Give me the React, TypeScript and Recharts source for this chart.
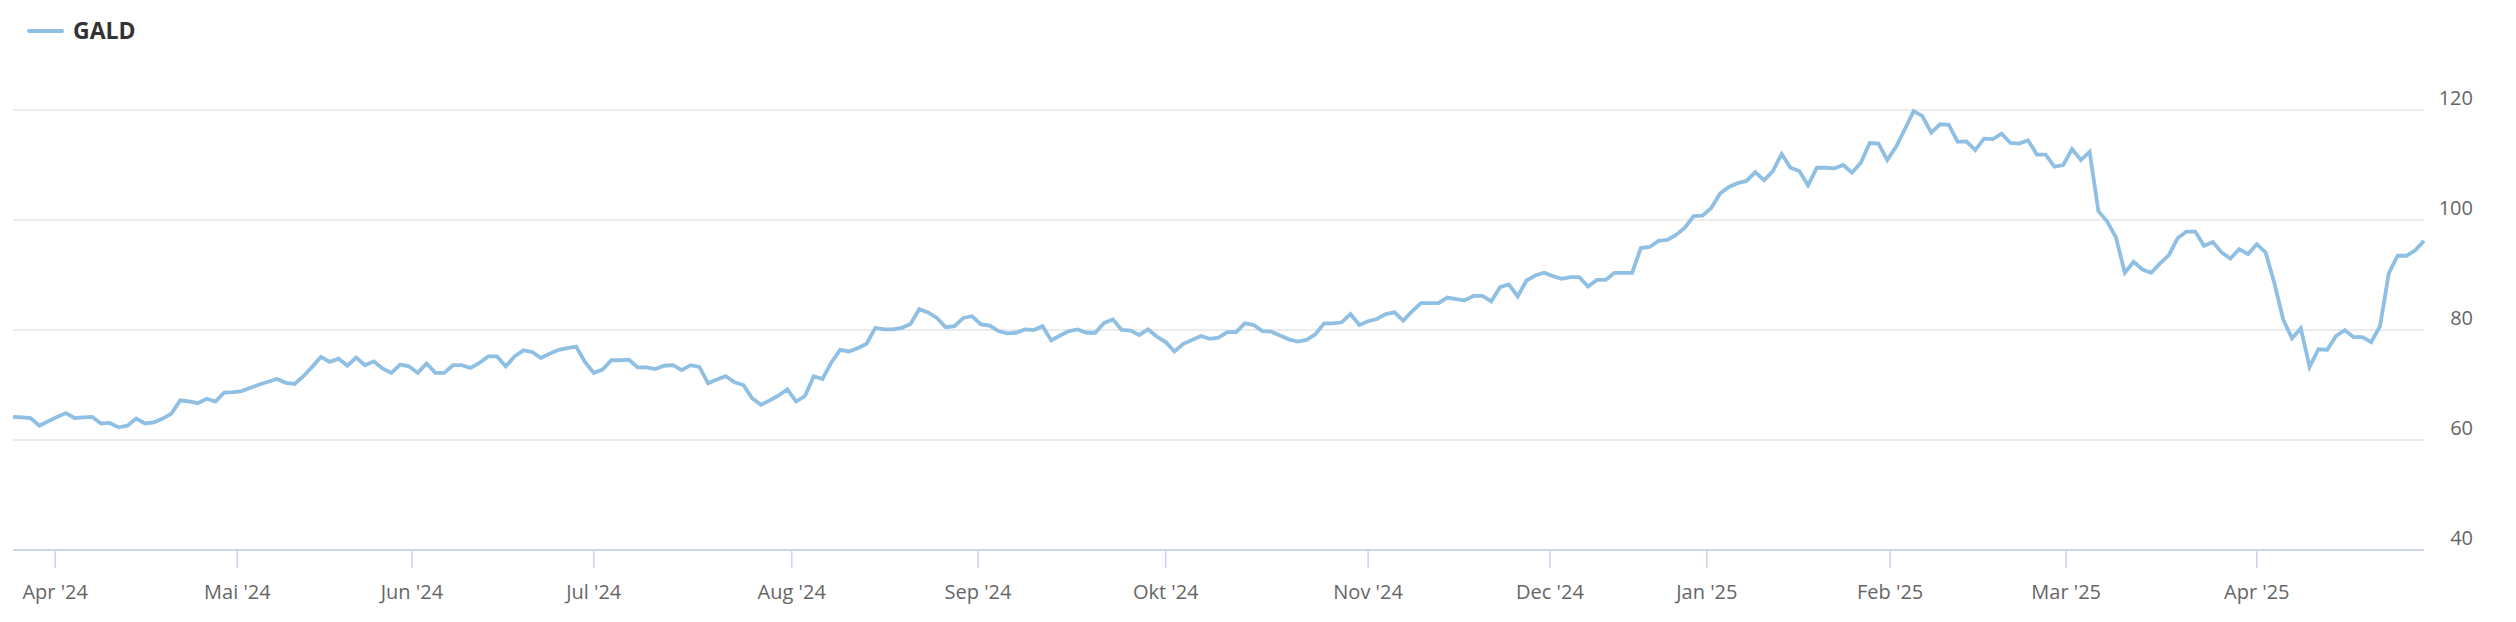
import React from "react";
import { LineChart, Line, XAxis, YAxis, CartesianGrid } from "recharts";

// daily closes, one array per month (SIX trading days)
const mar24 = [64.2, 64.1, 64.0, 62.6, 63.4];
const apr24 = [64.2, 64.9, 64.0, 64.1, 64.2, 63.0, 63.1, 62.3, 62.6, 63.9, 63.0, 63.2, 63.9, 64.8, 67.2, 67.0, 66.7, 67.5, 67.0, 68.6, 68.7];
const may24 = [68.9, 69.5, 70.1, 70.6, 71.1, 70.4, 70.2, 71.6, 73.3, 75.1, 74.2, 74.8, 73.5, 75.0, 73.6, 74.3, 73.0, 72.2, 73.7, 73.4];
const jun24 = [72.2, 73.9, 72.2, 72.2, 73.6, 73.6, 73.1, 74.0, 75.2, 75.2, 73.4, 75.2, 76.3, 76.0, 74.9, 75.7, 76.4, 76.7, 77.0, 74.2];
const jul24 = [72.2, 72.8, 74.5, 74.5, 74.6, 73.2, 73.2, 72.9, 73.5, 73.6, 72.7, 73.6, 73.3, 70.3, 71.0, 71.6, 70.5, 70.0, 67.6, 66.4, 67.2, 68.1, 69.2];
const aug24 = [67.0, 68.0, 71.6, 71.1, 74.1, 76.4, 76.1, 76.7, 77.5, 80.4, 80.1, 80.1, 80.4, 81.1, 83.8, 83.2, 82.2, 80.5, 80.7, 82.2, 82.5];
const sep24 = [81.0, 80.8, 79.8, 79.4, 79.5, 80.1, 80.0, 80.7, 78.1, 79.0, 79.8, 80.1, 79.5, 79.5, 81.3, 81.9, 80.0, 79.9, 79.1, 80.1, 78.8];
const oct24 = [77.8, 76.1, 77.5, 78.2, 78.9, 78.4, 78.6, 79.6, 79.6, 81.2, 80.9, 79.8, 79.7, 79.0, 78.3, 77.9, 78.2, 79.2, 81.2, 81.2, 81.4, 82.9, 80.9];
const nov24 = [81.6, 82.0, 82.9, 83.2, 81.7, 83.4, 84.9, 84.9, 84.9, 85.9, 85.6, 85.4, 86.2, 86.2, 85.2, 87.8, 88.3, 86.1, 89.0, 89.9, 90.4];
const dec24 = [89.8, 89.3, 89.6, 89.6, 87.9, 89.1, 89.1, 90.4, 90.4, 90.4, 94.9, 95.1, 96.2, 96.4, 97.3, 98.6, 100.7, 100.8];
const jan25 = [102.2, 104.8, 106.0, 106.7, 107.1, 108.7, 107.2, 108.9, 112.0, 109.5, 108.9, 106.3, 109.5, 109.5, 109.4, 110.0, 108.6, 110.4, 114.0, 113.9, 110.9];
const feb25 = [113.3, 116.5, 119.8, 118.9, 115.9, 117.4, 117.3, 114.2, 114.3, 112.7, 114.8, 114.7, 115.7, 114.0, 113.9, 114.5, 111.9, 111.9, 109.7, 110.0];
const mar25 = [112.9, 110.9, 112.4, 101.6, 99.7, 96.8, 90.4, 92.4, 91.0, 90.4, 92.1, 93.6, 96.7, 97.9, 97.9, 95.3, 96.0, 94.1, 93.0, 94.7, 93.8];
const apr25 = [95.6, 94.1, 88.5, 81.9, 78.5, 80.3, 73.3, 76.5, 76.4, 78.9, 80.0, 78.7, 78.7, 77.8, 80.7, 90.3, 93.5, 93.5, 94.5, 96.2];

const firstDay = "2024-03-22";
const holidays = [
  "2024-03-29", "2024-04-01", "2024-05-01", "2024-05-09", "2024-05-20", "2024-08-01",
  "2024-12-24", "2024-12-25", "2024-12-26", "2024-12-31", "2025-01-01", "2025-01-02",
  "2025-04-18", "2025-04-21",
];

const tickMonths = [
  "2024-04-01", "2024-05-01", "2024-06-01", "2024-07-01", "2024-08-01", "2024-09-01", "2024-10-01",
  "2024-11-01", "2024-12-01", "2025-01-01", "2025-02-01", "2025-03-01", "2025-04-01",
];
const tickLabels = ["Apr '24", "Mai '24", "Jun '24", "Jul '24", "Aug '24", "Sep '24", "Okt '24", "Nov '24", "Dec '24", "Jan '25", "Feb '25", "Mar '25", "Apr '25"];
const yTicks = [40, 60, 80, 100, 120];

const W = 2516;
const H = 622;
const LINE_COLOR = "#8fbfe3";
const DAY = 86400000;
const toTime = (s: string) => Date.parse(s + "T00:00:00Z");

const values = [mar24, apr24, may24, jun24, jul24, aug24, sep24, oct24, nov24, dec24, jan25, feb25, mar25, apr25].flat();

// walk the calendar, skipping weekends and exchange holidays
const holidaySet = new Set(holidays.map(toTime));
const tradingDays: number[] = [];
for (let t = toTime(firstDay); tradingDays.length < values.length; t += DAY) {
  const wd = new Date(t).getUTCDay();
  if (wd !== 0 && wd !== 6 && !holidaySet.has(t)) tradingDays.push(t);
}

const data = values.map((v, i) => ({ i, date: tradingDays[i], v }));

// ordinal axis: a month start falls between the trading days around it
const tickPos = tickMonths.map((m) => {
  const t = toTime(m);
  const k = tradingDays.findIndex((d) => d >= t);
  if (k <= 0 || tradingDays[k] === t) return k;
  const a = tradingDays[k - 1];
  const b = tradingDays[k];
  return k - 1 + (t - a) / (b - a);
});

const labelAt = (v: number) => {
  let best = 0;
  tickPos.forEach((p, idx) => {
    if (Math.abs(p - v) < Math.abs(tickPos[best] - v)) best = idx;
  });
  return tickLabels[best];
};

// eslint-disable-next-line @typescript-eslint/no-explicit-any
const YTick = (props: any) => {
  const { y, payload } = props;
  return (
    <text x={W - 43} y={y - 5} textAnchor="end" fill="#666666" fontSize={20}>
      {payload.value}
    </text>
  );
};

export default function App() {
  return (
    <div
      style={{
        position: "absolute",
        left: 0,
        top: 0,
        width: W,
        height: H,
        background: "#ffffff",
        fontFamily: "'Open Sans', sans-serif",
      }}
    >
      <svg width={200} height={60} style={{ position: "absolute", left: 0, top: 0 }}>
        <line x1={29} y1={31} x2={62} y2={31} stroke={LINE_COLOR} strokeWidth={4} strokeLinecap="round" />
        <text x={73} y={38.5} fontSize={23} fontWeight={700} fill="#333333">
          GALD
        </text>
      </svg>
      <LineChart width={W} height={H} data={data} margin={{ top: 110, right: 0, bottom: 0, left: 13 }}>
        <CartesianGrid vertical={false} stroke="#e6e6e6" strokeWidth={1.6} />
        <XAxis
          type="number"
          dataKey="i"
          domain={[0, values.length - 1]}
          ticks={tickPos}
          interval={0}
          tickFormatter={labelAt}
          height={72}
          axisLine={{ stroke: "#ccd6eb", strokeWidth: 2 }}
          tickLine={{ stroke: "#ccd6eb", strokeWidth: 1.6 }}
          tickSize={18}
          tickMargin={17}
          tick={{ fill: "#666666", fontSize: 20 }}
        />
        <YAxis
          orientation="right"
          domain={[40, 120]}
          ticks={yTicks}
          interval={0}
          width={92}
          axisLine={false}
          tickLine={false}
          tick={YTick}
        />
        <Line
          type="linear"
          dataKey="v"
          stroke={LINE_COLOR}
          strokeWidth={3.8}
          dot={false}
          isAnimationActive={false}
        />
      </LineChart>
    </div>
  );
}
